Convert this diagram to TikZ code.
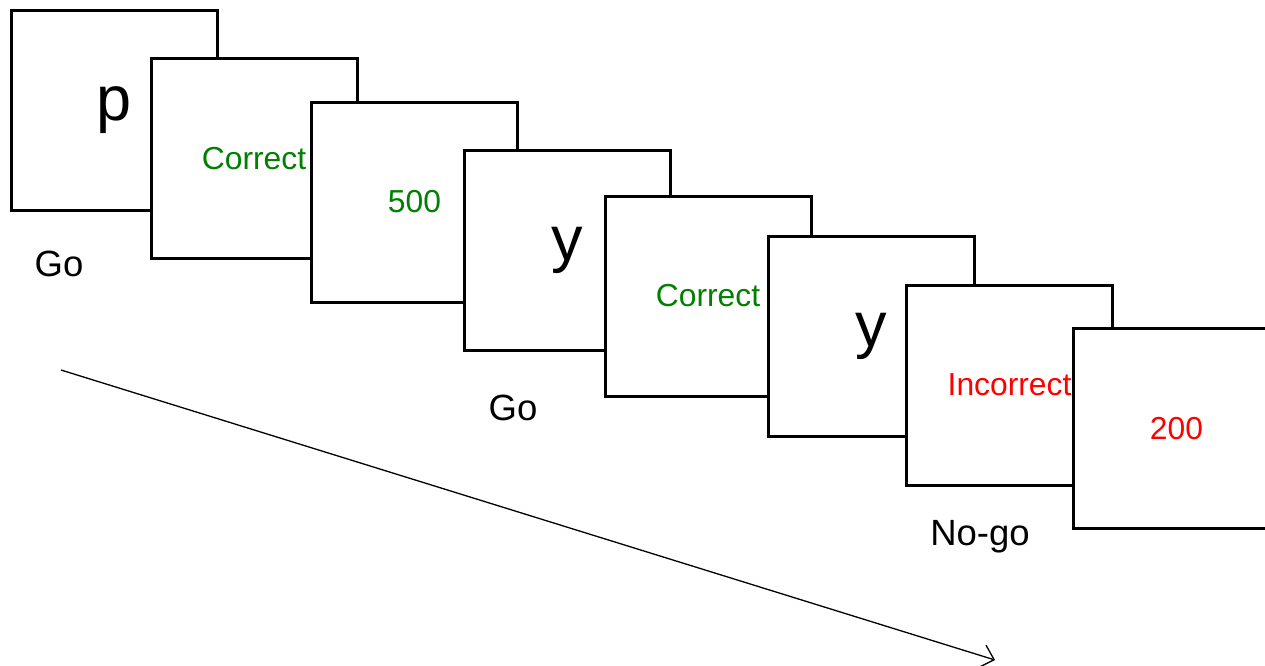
\documentclass[tikz,border=0pt]{standalone}
\usepackage{fontspec}
\setmainfont{Liberation Sans}
\usetikzlibrary{arrows.meta}
\definecolor{okgreen}{RGB}{0,128,0}
\definecolor{badred}{RGB}{255,0,0}
\begin{document}
\begin{tikzpicture}[x=1pt,y=-1pt,
    screen/.style={draw,line width=3pt,fill=white,minimum width=206pt,minimum height=200pt,inner sep=0pt},
    letter/.style={font=\fontsize{63}{63}\selectfont},
    fb/.style={font=\fontsize{31.8}{31.8}\selectfont},
    cond/.style={font=\fontsize{36.5}{36.5}\selectfont}]
    \useasboundingbox (0,0) rectangle (1265,665);
    \clip (0,0) rectangle (1265,665);
    \node[screen,letter] (s1) at (114.5,110.5) {p};
    \node[screen,fb,text=okgreen] (s2) at (254,158.5) {Correct};
    \node[screen,fb,text=okgreen] (s3) at (414.5,202) {500};
    \node[screen,letter] (s4) at (567.5,250) {y};
    \node[screen,fb,text=okgreen] (s5) at (708,296) {Correct};
    \node[screen,letter] (s6) at (871,336) {y};
    \node[screen,fb,text=badred] (s7) at (1009.5,385) {Incorrect};
    \node[screen,fb,text=badred] (s8) at (1176.5,428.5) {200};
    \node[cond] (go1) at (59,264) {Go};
    \node[cond] (go2) at (513,408) {Go};
    \node[cond] (nogo) at (980,537) {No-go};
    \coordinate (tstart) at (61,370);
    \coordinate (tend) at (995,660);
    \draw[line width=1.3pt,-{Straight Barb[length=12pt,width=23pt]}] (tstart) -- (tend);
\end{tikzpicture}
\end{document}
